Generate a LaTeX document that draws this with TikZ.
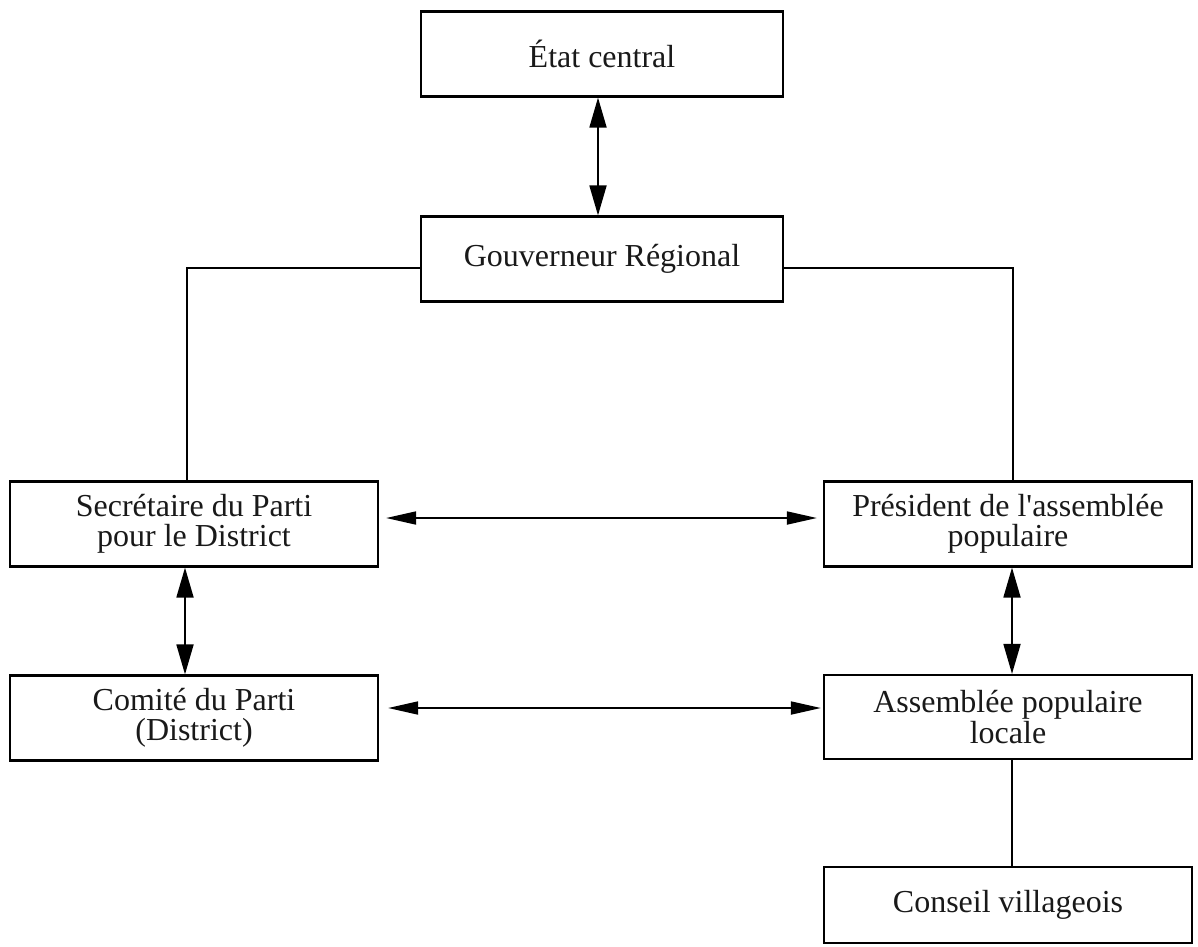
\documentclass[tikz,border=0pt]{standalone}
\usepackage{fontspec}
\setmainfont{Liberation Serif}
\usetikzlibrary{arrows.meta}
\begin{document}
\begin{tikzpicture}[x=1pt,y=-1pt,
  box/.style={draw, line width=2.2pt, rectangle, align=center, inner sep=0pt,
    font=\fontsize{32}{30.5}\selectfont, text=black!90},
  link/.style={line width=1.8pt},
  varrow/.style={link, {Triangle[length=30pt,width=17pt]}-{Triangle[length=30pt,width=17pt]}},
  harrow/.style={link, {Triangle[length=30pt,width=13pt]}-{Triangle[length=30pt,width=13pt]}}]
\useasboundingbox (0,0) rectangle (1198,946);
\node[box, minimum width=362pt, minimum height=85pt] (etat) at (602,54) {État central};
\node[box, minimum width=362pt, minimum height=85pt] (gouv) at (602,259) {Gouverneur Régional};
\node[box, minimum width=368pt, minimum height=85pt] (sec) at (194,524) {Secrétaire du Parti\\pour le District};
\node[box, minimum width=368pt, minimum height=85pt] (com) at (194,718) {Comité du Parti\\(District)};
\node[box, minimum width=368pt, minimum height=85pt] (pres) at (1008,524) {Président de l\textquotesingle assemblée\\populaire};
\node[box, minimum width=368pt, minimum height=84pt] (asm) at (1008,717) {Assemblée populaire\\locale};
\node[box, minimum width=368pt, minimum height=76pt] (cons) at (1008,905) {Conseil villageois};
\draw[varrow] ([xshift=-4pt]etat.south) -- ([xshift=-4pt]gouv.north);
\draw[link] ([yshift=-9pt]gouv.west) -| ([xshift=-7pt]sec.north);
\draw[link] ([yshift=-9pt]gouv.east) -| ([xshift=5pt]pres.north);
\draw[harrow, shorten <=7pt, shorten >=6pt] ([yshift=6pt]sec.east) -- ([yshift=6pt]pres.west);
\draw[varrow] ([xshift=-9pt]sec.south) -- ([xshift=-9pt]com.north);
\draw[varrow] ([xshift=4pt]pres.south) -- ([xshift=4pt]asm.north);
\draw[harrow, shorten <=9pt, shorten >=2pt] ([yshift=10pt]com.east) -- ([yshift=9pt]asm.west);
\draw[link] ([xshift=4pt]asm.south) -- ([xshift=4pt]cons.north);
\end{tikzpicture}
\end{document}
